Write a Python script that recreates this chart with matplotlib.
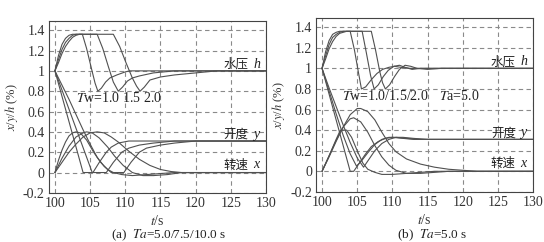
import matplotlib
matplotlib.use("Agg")
import matplotlib.pyplot as plt

plt.rcParams['font.family'] = ['Liberation Serif', 'Noto Sans CJK SC']
plt.rcParams['mathtext.fontset'] = 'stix'

# ---------------- panel (a): Ta = 5.0/7.5/10.0 s ----------------
# water pressure h
ha1_t = [100, 100.5, 101, 101.5, 102, 102.5, 103.9, 104.5, 105.2, 105.7, 106.1, 106.6, 107.2, 107.8, 108.8, 110.0, 110.6, 115, 130]
ha1_v = [1.0, 1.15, 1.26, 1.32, 1.35, 1.36, 1.36, 1.22, 1.02, 0.88, 0.80, 0.83, 0.89, 0.93, 0.96, 0.99, 1.0, 1.0, 1.0]
ha2_t = [100, 100.5, 101, 101.5, 102, 102.5, 103, 106.0, 106.8, 107.6, 108.3, 109.0, 109.6, 110.3, 111, 112, 114, 117, 130]
ha2_v = [1.0, 1.11, 1.21, 1.28, 1.32, 1.35, 1.36, 1.36, 1.22, 1.04, 0.89, 0.80, 0.84, 0.90, 0.93, 0.95, 0.98, 1.0, 1.0]
ha3_t = [100, 100.5, 101, 101.5, 102, 102.5, 103, 103.5, 108.3, 109.2, 110.1, 111.0, 111.6, 112.1, 112.7, 113.5, 115, 117, 120, 123, 130]
ha3_v = [1.0, 1.08, 1.17, 1.24, 1.29, 1.33, 1.35, 1.36, 1.36, 1.24, 1.08, 0.93, 0.85, 0.80, 0.84, 0.91, 0.94, 0.96, 0.98, 1.0, 1.0]

# gate opening y
ya1_t = [100, 104.0, 105.4, 106.3, 107.3, 108.0, 109, 110.5, 130]
ya1_v = [1.0, 0.0, 0.0, 0.10, 0.20, 0.25, 0.29, 0.31, 0.31]
ya2_t = [100, 105.3, 107.3, 108.3, 109.5, 110.5, 112, 114, 117, 130]
ya2_v = [1.0, 0.0, 0.0, 0.10, 0.20, 0.24, 0.27, 0.29, 0.31, 0.31]
ya3_t = [100, 101, 102, 103, 104, 105, 106, 107, 108, 109.8, 110.8, 112.0, 113, 115, 117, 120, 130]
ya3_v = [1.0, 0.86, 0.72, 0.57, 0.42, 0.28, 0.15, 0.06, 0.0, 0.0, 0.10, 0.20, 0.24, 0.27, 0.29, 0.31, 0.31]

# speed x
xa1_t = [100, 100.5, 101, 101.5, 102, 102.5, 103, 103.6, 104.5, 105.5, 106.5, 107.5, 108.3, 109.5, 111, 113, 115, 117, 130]
xa1_v = [0, 0.12, 0.22, 0.30, 0.36, 0.39, 0.40, 0.39, 0.32, 0.20, 0.10, 0.03, 0.0, -0.02, -0.03, -0.02, -0.01, 0, 0]
xa2_t = [100, 101, 102, 103, 104, 104.5, 105.3, 106.3, 107.5, 108.5, 109.7, 111, 112.5, 114, 116, 118, 130]
xa2_v = [0, 0.14, 0.26, 0.35, 0.39, 0.40, 0.39, 0.34, 0.25, 0.16, 0.07, 0.0, -0.03, -0.03, -0.02, 0, 0]
xa3_t = [100, 101, 102, 103, 104, 105, 106, 107, 108, 109, 110.5, 112, 113.5, 115, 116.5, 118, 130]
xa3_v = [0, 0.10, 0.20, 0.28, 0.35, 0.39, 0.40, 0.39, 0.35, 0.30, 0.21, 0.13, 0.07, 0.03, 0.01, 0, 0]

# ---------------- panel (b): Ta = 5.0 s ----------------
hb1_t = [100, 100.5, 101, 101.5, 102, 102.5, 104.0, 104.6, 105.2, 105.6, 106.2, 107, 107.8, 108.6, 109.5, 110.3, 111.2, 112.5, 114, 130]
hb1_v = [1.0, 1.16, 1.27, 1.33, 1.35, 1.36, 1.36, 1.18, 0.95, 0.80, 0.82, 0.89, 0.95, 0.99, 1.01, 1.02, 1.01, 1.0, 1.0, 1.0]
hb2_t = [100, 100.5, 101, 101.5, 102, 102.5, 103, 105.7, 106.3, 106.9, 107.4, 108, 108.7, 109.4, 110.2, 111, 111.8, 112.8, 114, 116, 130]
hb2_v = [1.0, 1.12, 1.23, 1.30, 1.33, 1.35, 1.36, 1.36, 1.15, 0.93, 0.80, 0.84, 0.92, 0.98, 1.02, 1.03, 1.01, 0.99, 1.0, 1.0, 1.0]
hb3_t = [100, 100.5, 101, 101.5, 102, 102.5, 103, 103.5, 107.0, 107.6, 108.2, 108.6, 109.0, 109.6, 110.3, 111.0, 111.8, 112.6, 113.5, 115, 117, 130]
hb3_v = [1.0, 1.09, 1.19, 1.26, 1.31, 1.34, 1.35, 1.36, 1.36, 1.18, 0.97, 0.86, 0.80, 0.84, 0.92, 0.99, 1.03, 1.02, 1.0, 0.99, 1.0, 1.0]

yb1_t = [100, 104.0, 104.5, 105.3, 106.2, 107.0, 108.0, 109.0, 110.0, 111.5, 113, 130]
yb1_v = [1.0, 0.0, 0.0, 0.08, 0.17, 0.24, 0.29, 0.32, 0.33, 0.32, 0.31, 0.31]
yb2_t = [100, 101, 102, 103, 104.0, 104.9, 105.6, 106.5, 107.5, 108.5, 109.5, 110.5, 112, 114, 130]
yb2_v = [1.0, 0.78, 0.56, 0.35, 0.17, 0.05, 0.10, 0.18, 0.26, 0.31, 0.33, 0.33, 0.32, 0.31, 0.31]
yb3_t = [100, 101, 102, 103, 104, 105, 105.9, 106.5, 107.5, 108.5, 109.5, 110.5, 111.5, 113, 115, 130]
yb3_v = [1.0, 0.81, 0.63, 0.45, 0.28, 0.13, 0.04, 0.10, 0.20, 0.27, 0.31, 0.33, 0.33, 0.32, 0.31, 0.31]

xb1_t = [100, 101, 102, 102.6, 103.5, 104.2, 105, 105.8, 106.5, 107.5, 108.5, 110, 112, 114, 116, 130]
xb1_v = [0, 0.15, 0.31, 0.40, 0.40, 0.33, 0.20, 0.08, 0.02, -0.01, -0.03, -0.03, -0.02, -0.01, 0, 0]
xb2_t = [100, 101, 102, 103, 104, 104.5, 105.5, 106.5, 107.5, 108.5, 109.5, 110.5, 112, 114, 116, 118, 130]
xb2_v = [0, 0.15, 0.30, 0.43, 0.51, 0.52, 0.48, 0.38, 0.25, 0.14, 0.06, 0.01, -0.02, -0.02, -0.01, 0, 0]
xb3_t = [100, 101, 102, 103, 104, 105, 105.5, 106.5, 107.5, 108.5, 109.5, 110.5, 112, 114, 116, 118, 120, 122, 130]
xb3_v = [0, 0.14, 0.29, 0.43, 0.55, 0.61, 0.61, 0.58, 0.50, 0.38, 0.27, 0.19, 0.12, 0.07, 0.04, 0.02, 0.01, 0, 0]

xticks = [100, 105, 110, 115, 120, 125, 130]
yticks = [-0.2, 0, 0.2, 0.4, 0.6, 0.8, 1, 1.2, 1.4]
ytick_labels = ['-0.2', '0', '0.2', '0.4', '0.6', '0.8', '1', '1.2', '1.4']

line_color = '#505050'
cjk = ['Noto Sans CJK SC', 'Liberation Serif']

fig = plt.figure(figsize=(5.44, 2.42), dpi=100)
ax_a = fig.add_axes([0.090, 0.203, 0.399, 0.71])
ax_b = fig.add_axes([0.581, 0.207, 0.399, 0.719])

panel_a = [(ha1_t, ha1_v), (ha2_t, ha2_v), (ha3_t, ha3_v),
           (ya1_t, ya1_v), (ya2_t, ya2_v), (ya3_t, ya3_v),
           (xa1_t, xa1_v), (xa2_t, xa2_v), (xa3_t, xa3_v)]
panel_b = [(hb1_t, hb1_v), (hb2_t, hb2_v), (hb3_t, hb3_v),
           (yb1_t, yb1_v), (yb2_t, yb2_v), (yb3_t, yb3_v),
           (xb1_t, xb1_v), (xb2_t, xb2_v), (xb3_t, xb3_v)]

for ax, curves in [(ax_a, panel_a), (ax_b, panel_b)]:
    for t, v in curves:
        ax.plot(t, v, color=line_color, lw=0.8)
    ax.set_xlim(99.15, 130)
    ax.set_ylim(-0.2, 1.49)
    ax.set_xticks(xticks)
    ax.set_yticks(yticks)
    ax.set_yticklabels(ytick_labels)
    ax.grid(True, ls=(0, (4, 3)), color='#8a8a8a', lw=0.8)
    ax.tick_params(labelsize=10, length=0, pad=3, colors='#333333')
    for s in ax.spines.values():
        s.set_color('#444444')
        s.set_linewidth(0.8)
    ax.set_xlabel('$t$/s', fontsize=10, labelpad=3, color='#333333')
    ax.set_ylabel('$x$/$y$/$h$ (%)', fontsize=9, labelpad=2, color='#333333')

    # curve labels
    ax.text(124.0, 1.03, '水压', family=cjk, fontsize=9, color='#222222')
    ax.text(128.2, 1.03, 'h', style='italic', fontsize=10, color='#222222')
    ax.text(124.0, 0.34, '开度', family=cjk, fontsize=9, color='#222222')
    ax.text(128.2, 0.34, 'y', style='italic', fontsize=10, color='#222222')
    ax.text(124.0, 0.04, '转速', family=cjk, fontsize=9, color='#222222')
    ax.text(128.2, 0.04, 'x', style='italic', fontsize=10, color='#222222')

ax_a.text(103.0, 0.69, '$T$w=1.0 1.5 2.0', fontsize=10, color='#222222')
ax_b.text(102.8, 0.69, '$T$w=1.0/1.5/2.0', fontsize=10, color='#222222')
ax_b.text(116.6, 0.69, '$T$a=5.0', fontsize=10, color='#222222')

fig.text(0.31, 0.015, '(a)  $Ta$=5.0/7.5/10.0 s', fontsize=9.5, ha='center', color='#222222')
fig.text(0.795, 0.015, '(b)  $Ta$=5.0 s', fontsize=9.5, ha='center', color='#222222')

fig.savefig('out.png', dpi=100)
